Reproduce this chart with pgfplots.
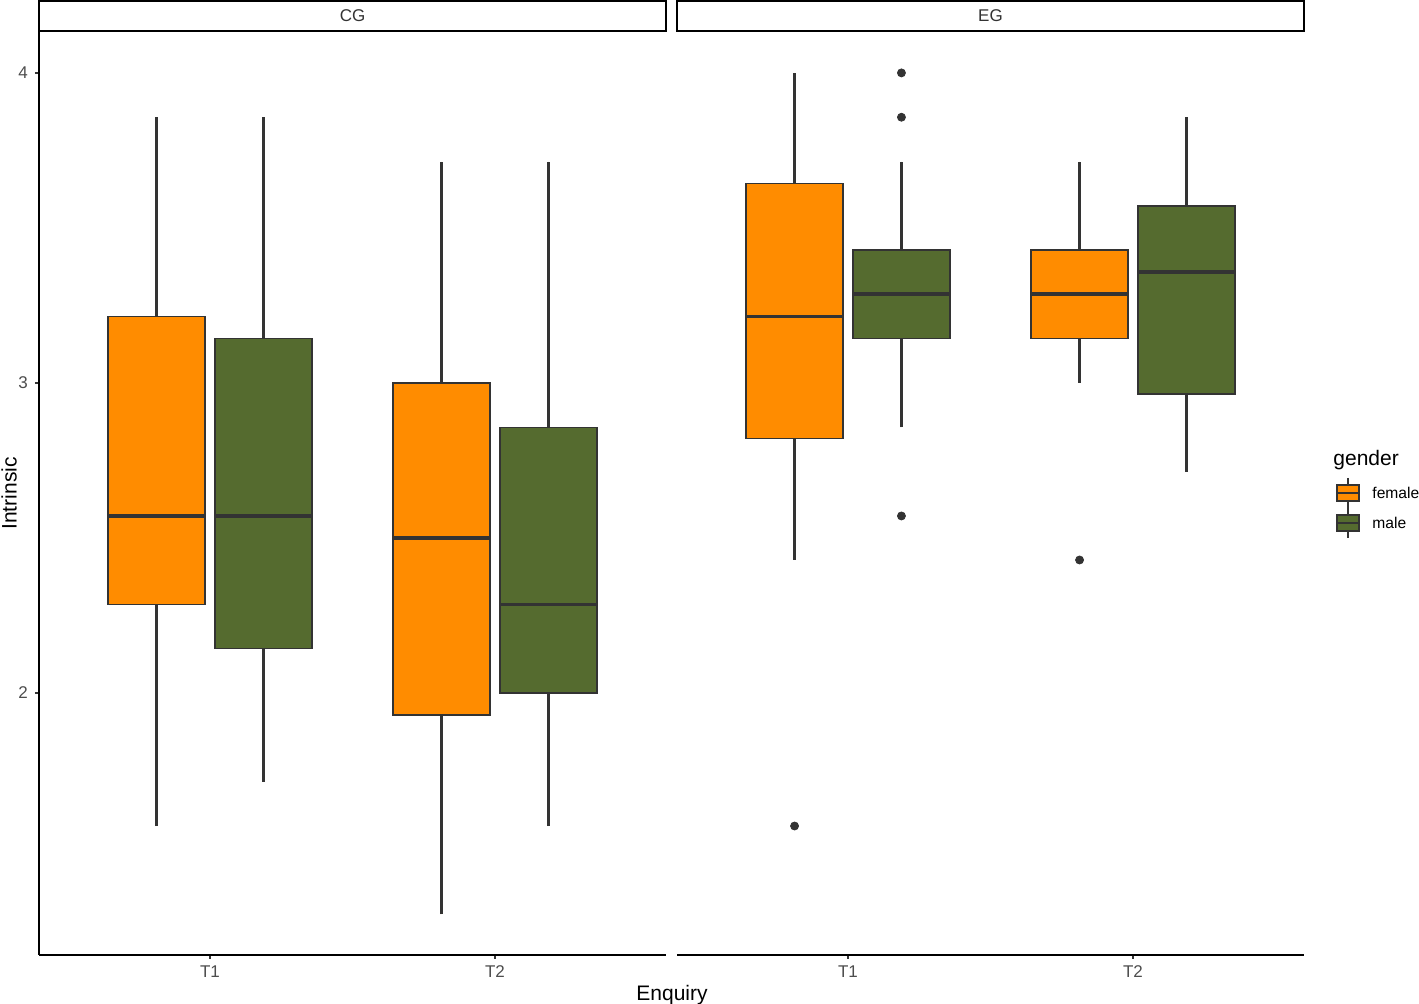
\documentclass[border=0pt]{standalone}
\usepackage{fontspec}
\setmainfont{Liberation Sans}
\usepackage{pgfplots}
\pgfplotsset{compat=1.18}
\usepgfplotslibrary{statistics}
\definecolor{cdark}{HTML}{333333}
\definecolor{ctick}{HTML}{4D4D4D}
\definecolor{corange}{HTML}{FF8C00}
\definecolor{cgreen}{HTML}{556B2F}
\tikzset{
  fbox/.style={draw=cdark, fill=corange, line width=0.75pt},
  mbox/.style={draw=cdark, fill=cgreen, line width=0.75pt},
  wh/.style={draw=cdark, line width=1.2pt},
}
\pgfplotsset{
  panel/.style={
    scale only axis, width=313.5pt, height=461.5pt,
    anchor=south west,
    xmin=0.4, xmax=2.6, ymin=1.155, ymax=4.132,
    xtick={1,2}, xticklabels={T1,T2},
    axis x line*=bottom,
    axis line style={-, line width=0.9pt, black},
    tick align=outside, major tick length=2pt,
    tick style={line width=0.9pt, color=cdark},
    tick label style={font=\fontsize{8.5}{10}\selectfont, color=ctick},
    /pgf/number format/assume math mode=true,
    clip=false,
    boxplot/draw direction=y,
  },
  outl/.style={only marks, mark=*, mark size=2pt, color=cdark},
  bp/.style n args={6}{boxplot prepared={draw direction=y, draw position=#1, lower whisker=#2, lower quartile=#3, median=#4, upper quartile=#5, upper whisker=#6, box extend=0.34, whisker extend=0,
    every median/.style={line width=1.8pt, draw=cdark}}},
}
\begin{document}
\begin{tikzpicture}
\path[use as bounding box] (-19.5pt,-24.5pt) rectangle (690pt,477.5pt);
% CG panel
\begin{axis}[panel, at={(0pt,0pt)}, axis y line*=left, ytick={2,3,4}]
\addplot[wh, no marks] coordinates {(0.8125,1.571) (0.8125,3.857)};
\addplot[wh, no marks] coordinates {(1.1875,1.714) (1.1875,3.857)};
\addplot[wh, no marks] coordinates {(1.8125,1.286) (1.8125,3.714)};
\addplot[wh, no marks] coordinates {(2.1875,1.571) (2.1875,3.714)};
\addplot[fbox, bp={0.8125}{1.571}{2.286}{2.571}{3.214}{3.857}] coordinates {};
\addplot[mbox, bp={1.1875}{1.714}{2.143}{2.571}{3.143}{3.857}] coordinates {};
\addplot[fbox, bp={1.8125}{1.286}{1.929}{2.5}{3.0}{3.714}] coordinates {};
\addplot[mbox, bp={2.1875}{1.571}{2.0}{2.286}{2.857}{3.714}] coordinates {};
\end{axis}
% EG panel
\begin{axis}[panel, at={(319pt,0pt)}, axis y line=none, ytick=\empty]
\addplot[wh, no marks] coordinates {(0.8125,2.429) (0.8125,4.0)};
\addplot[wh, no marks] coordinates {(1.1875,2.857) (1.1875,3.714)};
\addplot[wh, no marks] coordinates {(1.8125,3.0) (1.8125,3.714)};
\addplot[wh, no marks] coordinates {(2.1875,2.714) (2.1875,3.857)};
\addplot[fbox, bp={0.8125}{2.429}{2.821}{3.214}{3.643}{4.0}] coordinates {};
\addplot[mbox, bp={1.1875}{2.857}{3.143}{3.286}{3.429}{3.714}] coordinates {};
\addplot[fbox, bp={1.8125}{3.0}{3.143}{3.286}{3.429}{3.714}] coordinates {};
\addplot[mbox, bp={2.1875}{2.714}{2.964}{3.357}{3.571}{3.857}] coordinates {};
\addplot[outl] coordinates {(0.8125,1.571)};
\addplot[outl] coordinates {(1.1875,4.0) (1.1875,3.857) (1.1875,2.571)};
\addplot[outl] coordinates {(1.8125,2.429)};
\end{axis}
% strips
\draw[line width=0.9pt, black] (0pt,462pt) rectangle (313.5pt,477pt);
\node[font=\fontsize{8.5}{10}\selectfont, color=cdark] at (156.75pt,469.5pt) {CG};
\draw[line width=0.9pt, black] (319pt,462pt) rectangle (632.5pt,477pt);
\node[font=\fontsize{8.5}{10}\selectfont, color=cdark] at (475.75pt,469.5pt) {EG};
% axis titles
\node[rotate=90, font=\fontsize{10.5}{12}\selectfont] at (-15pt,230.75pt) {Intrinsic};
\node[font=\fontsize{10.5}{12}\selectfont] at (316.5pt,-20pt) {Enquiry};
% legend
\node[anchor=west, font=\fontsize{10.5}{12}\selectfont, inner sep=0pt] at (647pt,247.5pt) {gender};
\draw[cdark, line width=0.6pt] (654.5pt,238.5pt) -- (654.5pt,223.5pt);
\draw[fbox, line width=0.6pt] (649pt,227pt) rectangle (660pt,235pt);
\draw[cdark, line width=1.1pt] (649pt,231pt) -- (660pt,231pt);
\draw[cdark, line width=0.6pt] (654.5pt,223.5pt) -- (654.5pt,208.5pt);
\draw[mbox, line width=0.6pt] (649pt,212pt) rectangle (660pt,220pt);
\draw[cdark, line width=1.1pt] (649pt,216pt) -- (660pt,216pt);
\node[anchor=west, font=\fontsize{7.8}{9}\selectfont, inner sep=0pt] at (666.5pt,231pt) {female};
\node[anchor=west, font=\fontsize{7.8}{9}\selectfont, inner sep=0pt] at (666.5pt,216pt) {male};
\end{tikzpicture}
\end{document}
